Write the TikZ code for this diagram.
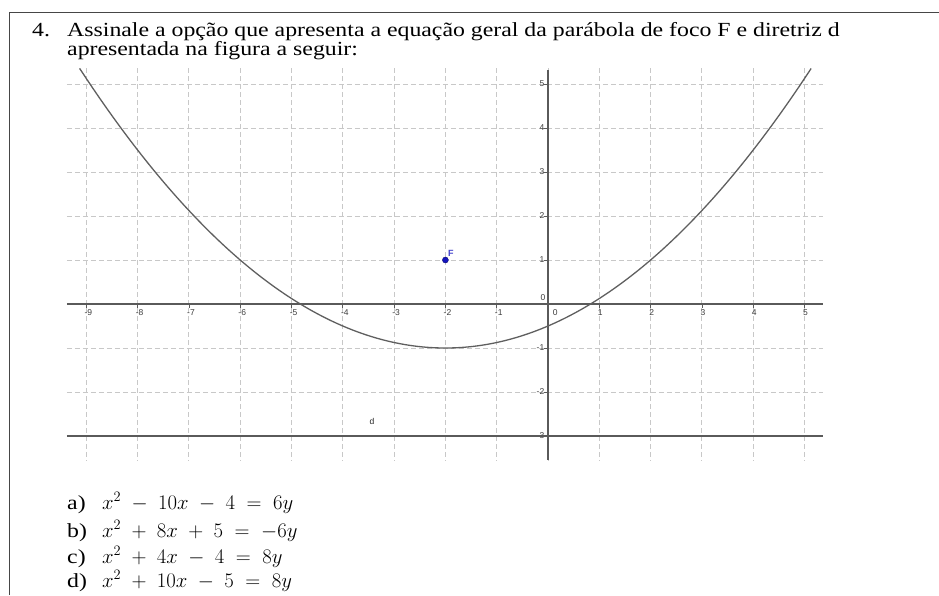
\documentclass[tikz,border=0pt]{standalone}
\usepackage{fontspec}
\setmainfont[FakeStretch=1.19]{Liberation Serif}
\newfontfamily\labfont{Liberation Sans}
\newcommand{\eqsp}{\medmuskip=9mu\relax\thickmuskip=10mu\relax}
\definecolor{axiscol}{RGB}{90,90,90}
\definecolor{gridcol}{RGB}{200,200,200}
\definecolor{curvecol}{RGB}{95,95,95}
\definecolor{labcol}{RGB}{60,60,60}
\definecolor{ptblue}{RGB}{20,20,190}
\definecolor{framecol}{RGB}{70,70,70}
\tikzset{
  gridline/.style={draw=gridcol, line width=0.9pt, dash pattern=on 5pt off 3pt},
  axisline/.style={draw=axiscol, line width=1.3pt},
  dirline/.style={draw=axiscol, line width=2pt},
  curveline/.style={draw=curvecol, line width=1.3pt},
  ticklab/.style={font=\labfont\fontsize{8.5}{9}\selectfont, text=labcol, inner sep=1pt},
  tickmark/.style={draw=axiscol, line width=0.7pt},
  maintext/.style={font=\fontsize{20}{22}\selectfont, anchor=base west, inner sep=0pt},
  eqtext/.style={font=\fontsize{21}{23}\selectfont, anchor=base west, inner sep=0pt},
  frameline/.style={draw=framecol, line width=1pt}
}
\begin{document}
\begin{tikzpicture}[x=1pt,y=-1pt]
\useasboundingbox (0,0) rectangle (939,595);
% frame
\coordinate (fl) at (9,595);
\coordinate (ftl) at (9,12);
\coordinate (ftr) at (939,12);
\draw[frameline] (fl) -- (ftl) -- (ftr);
% heading
\node[maintext] (num) at (32,36) {4.};
\node[maintext] (q1) at (67,36) {Assinale a opção que apresenta a equação geral da parábola de foco F e diretriz d};
\node[maintext] (q2) at (67,55) {apresentada na figura a seguir:};
% graph
\begin{scope}[shift={(548,304)}, x=51.3pt, y=44pt]
  \foreach \i in {-9,...,5} {
    \draw[gridline] (\i,5.36) -- (\i,-3.55);
  }
  \foreach \j in {-3,...,5} {
    \draw[gridline] (-9.38,\j) -- (5.36,\j);
  }
  % x tick labels
  \foreach \i in {-9,...,-1} {
    \node[ticklab, anchor=north] (xl\i) at (\i+0.04,-0.1) {\i};
    \draw[tickmark] (\i,0) -- (\i,-0.08);
  }
  \foreach \i in {1,...,5} {
    \node[ticklab, anchor=north] (xp\i) at (\i+0.02,-0.1) {\i};
    \draw[tickmark] (\i,0) -- (\i,-0.08);
  }
  \node[ticklab, anchor=north] (x0) at (0.14,-0.1) {0};
  \node[ticklab, anchor=south east] (y0) at (-0.03,0.04) {0};
  % y tick labels
  \foreach \j in {1,...,5} {
    \node[ticklab, anchor=east] (yp\j) at (-0.05,\j) {\j};
    \draw[tickmark] (0,\j) -- (-0.07,\j);
  }
  \foreach \j in {1,...,3} {
    \node[ticklab, anchor=east] (yn\j) at (-0.05,-\j) {-\j};
    \draw[tickmark] (0,-\j) -- (-0.07,-\j);
  }
  % axes
  \coordinate (xa1) at (-9.38,0);
  \coordinate (xa2) at (5.36,0);
  \coordinate (ya1) at (0,5.32);
  \coordinate (ya2) at (0,-3.55);
  \draw[axisline] (xa1) -- (xa2);
  \draw[axisline] (ya1) -- (ya2);
  % directrix
  \coordinate (d1) at (-9.38,-3);
  \coordinate (d2) at (5.36,-3);
  \draw[dirline] (d1) -- (d2);
  \node[ticklab, text=black!85] (dlab) at (-3.43,-2.66) {d};
  % parabola
  \draw[curveline, domain=-9.13:5.13, samples=120, smooth] plot (\x, {(\x+2)*(\x+2)/8-1});
  % focus
  \node[circle, fill=ptblue, draw=ptblue!60!black, inner sep=0pt, minimum size=6pt] (F) at (-2,1) {};
  \node[ticklab, text=ptblue!80!white, font=\labfont\bfseries\fontsize{9}{10}\selectfont, anchor=south west] (Flab) at (-1.97,1.05) {F};
\end{scope}
% options
\node[maintext] (oa) at (67,509) {a)};
\node[eqtext] (ea) at (102,509) {$\eqsp x^2-10x-4=6y$};
\node[maintext] (ob) at (67,537) {b)};
\node[eqtext] (eb) at (102,537) {$\eqsp x^2+8x+5=-6y$};
\node[maintext] (oc) at (67,563) {c)};
\node[eqtext] (ec) at (102,563) {$\eqsp x^2+4x-4=8y$};
\node[maintext] (od) at (67,587) {d)};
\node[eqtext] (ed) at (102,587) {$\eqsp x^2+10x-5=8y$};
\end{tikzpicture}
\end{document}
